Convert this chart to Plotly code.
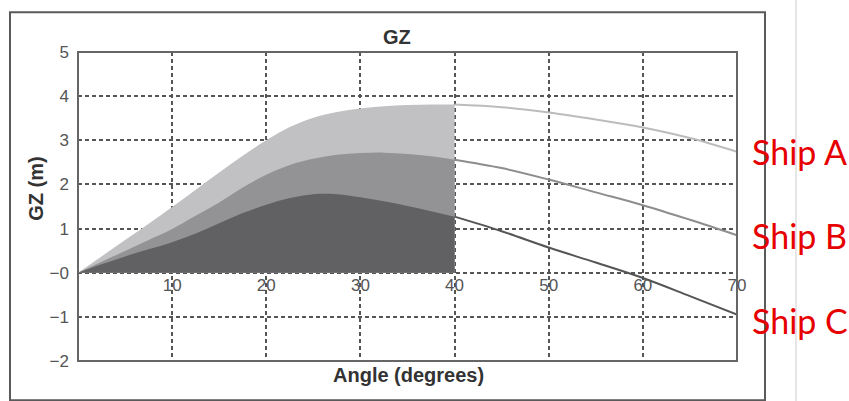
import plotly.graph_objects as go

# ---- data ----
angles_fill = [0, 2.5, 5, 7.5, 10, 12.5, 15, 17.5, 20, 22.5, 25, 27.5, 30, 32.5, 35, 37.5, 40]
angles_tail = [40, 45, 50, 55, 60, 65, 70]

ship_a_fill = [0, 0.37, 0.74, 1.11, 1.49, 1.88, 2.27, 2.65, 3.00, 3.30, 3.51, 3.64, 3.72, 3.77, 3.80, 3.81, 3.81]
ship_b_fill = [0, 0.25, 0.49, 0.74, 0.99, 1.29, 1.59, 1.93, 2.22, 2.44, 2.58, 2.67, 2.71, 2.72, 2.69, 2.64, 2.56]
ship_c_fill = [0, 0.19, 0.37, 0.53, 0.69, 0.89, 1.12, 1.35, 1.54, 1.69, 1.78, 1.78, 1.71, 1.62, 1.51, 1.39, 1.27]

ship_a_tail = [3.81, 3.75, 3.63, 3.47, 3.29, 3.05, 2.74]
ship_b_tail = [2.56, 2.37, 2.11, 1.82, 1.53, 1.20, 0.85]
ship_c_tail = [1.27, 0.94, 0.57, 0.23, -0.12, -0.53, -0.95]

x_tickvals = [10, 20, 30, 40, 50, 60, 70]
x_ticktext = ["10", "20", "30", "40", "50", "60", "70"]
y_tickvals = [-2, -1, 0, 1, 2, 3, 4, 5]
y_ticktext = ["\u22122", "\u22121", "\u22120", "1", "2", "3", "4", "5"]

ship_names = ["Ship A", "Ship B", "Ship C"]

fill_colors = ["#c1c1c3", "#939395", "#616163"]
line_colors = ["#bcbcbc", "#8d8d8d", "#555555"]

fig = go.Figure()

for vals, col in zip([ship_a_fill, ship_b_fill, ship_c_fill], fill_colors):
    fig.add_trace(go.Scatter(
        x=angles_fill, y=vals, mode="lines", fill="tozeroy",
        fillcolor=col, line=dict(width=0, color=col, shape="spline", smoothing=1.0),
        hoverinfo="skip", showlegend=False))

for vals, col in zip([ship_a_tail, ship_b_tail, ship_c_tail], line_colors):
    fig.add_trace(go.Scatter(
        x=angles_tail, y=vals, mode="lines",
        line=dict(width=2, color=col, shape="spline", smoothing=1.0),
        hoverinfo="skip", showlegend=False))

# ship labels next to the curve ends
label_y = [0.679, 0.406, 0.131]
for name, yy in zip(ship_names, label_y):
    fig.add_annotation(text=name, xref="paper", yref="paper", x=1.019, y=yy,
                       xanchor="left", yanchor="middle", showarrow=False,
                       font=dict(family="Lato", size=34, color="#e60000"))

# titles
fig.add_annotation(text="<b>GZ</b>", xref="paper", yref="paper", x=0.484, y=1.05,
                   xanchor="center", yanchor="middle", showarrow=False,
                   font=dict(family="Liberation Sans", size=20, color="#333333"))
fig.add_annotation(text="<b>Angle (degrees)</b>", xref="paper", yref="paper", x=0.502, y=-0.045,
                   xanchor="center", yanchor="middle", showarrow=False,
                   font=dict(family="Liberation Sans", size=20, color="#333333"))
fig.add_annotation(text="<b>GZ (m)</b>", xref="paper", yref="paper", x=-0.064, y=0.557,
                   xanchor="center", yanchor="middle", showarrow=False, textangle=-90,
                   font=dict(family="Liberation Sans", size=20, color="#333333"))

# plot box, outer frame and the thin divider on the right
fig.add_shape(type="rect", xref="x domain", yref="y domain", x0=0, x1=1, y0=0, y1=1,
              line=dict(color="#666666", width=2), layer="above")
fig.add_shape(type="rect", xref="paper", yref="paper", x0=-0.1032, x1=1.0425, y0=-0.127, y1=1.129,
              line=dict(color="#5a5a5a", width=2), layer="below")
fig.add_shape(type="line", xref="paper", yref="paper", x0=1.0895, x1=1.0895, y0=-0.2, y1=1.2,
              line=dict(color="#cccccc", width=1), layer="below")

fig.update_layout(
    width=849, height=401,
    margin=dict(l=78, r=112, t=52, b=40),
    paper_bgcolor="white", plot_bgcolor="white",
    xaxis=dict(range=[0, 70], tickvals=x_tickvals, ticktext=x_ticktext,
               anchor="free", position=2 / 7, showline=False, zeroline=False,
               showgrid=True, gridcolor="#555555", gridwidth=1.5, griddash="4px,3px",
               ticks="", tickfont=dict(family="Liberation Sans", size=17, color="#555555")),
    yaxis=dict(range=[-2, 5], tickvals=y_tickvals, ticktext=y_ticktext,
               showline=False, zeroline=False,
               showgrid=True, gridcolor="#555555", gridwidth=1.5, griddash="4px,3px",
               ticks="", ticklabelstandoff=8,
               tickfont=dict(family="Liberation Sans", size=17, color="#555555")),
)

fig.write_html("out.html")
